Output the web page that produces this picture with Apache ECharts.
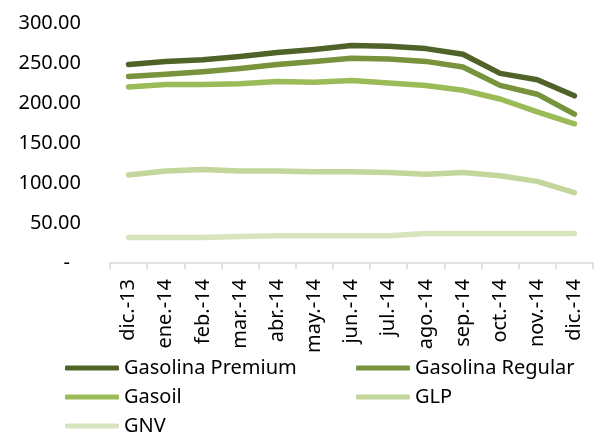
<!DOCTYPE html>
<html>
<head>
<meta charset="utf-8">
<script src="https://cdn.jsdelivr.net/npm/echarts@6/dist/echarts.min.js"></script>
<style>html,body{margin:0;padding:0;background:#fff;}#c{width:600px;height:432px;}</style>
</head>
<body>
<div id="c"></div>
<script>
const categories = ['dic.-13','ene.-14','feb.-14','mar.-14','abr.-14','may.-14','jun.-14','jul.-14','ago.-14','sep.-14','oct.-14','nov.-14','dic.-14'];
const gasolinaPremium = [248, 252, 254, 258, 263, 267, 272, 271, 268, 261, 237, 229, 209];
const gasolinaRegular = [233, 236, 239, 243, 248, 252, 256, 255, 252, 245, 222, 211, 186];
const gasoil = [220, 223, 223, 224, 227, 226, 228, 225, 222, 216, 205, 189, 174];
const glp = [110, 115, 117, 115, 115, 114, 114, 113, 111, 113, 109, 102, 88];
const gnv = [32, 32, 32, 33, 34, 34, 34, 34, 37, 37, 37, 37, 37];
const yTicks = {min: 0, max: 300, interval: 50};

const font = '"Noto Sans", "Liberation Sans", sans-serif';
const names = ['Gasolina Premium','Gasolina Regular','Gasoil','GLP','GNV'];
const colors = ['#4f6228','#77933c','#9bbb59','#c3d69b','#d7e4bd'];
const datas = [gasolinaPremium, gasolinaRegular, gasoil, glp, gnv];

const chart = echarts.init(document.getElementById('c'), null, {renderer: 'canvas'});
const legendCommon = {
  orient: 'vertical', top: 358, height: 140, icon: 'roundRect', itemWidth: 54, itemHeight: 5, itemGap: 9,
  padding: 0,
  textStyle: {fontFamily: font, fontSize: 20, color: '#000', lineHeight: 20},
  selectedMode: false
};
chart.setOption({
  animation: false,
  backgroundColor: '#fff',
  grid: {left: 110, right: 7, top: 23, bottom: 169, containLabel: false},
  legend: [
    Object.assign({left: 65, data: ['Gasolina Premium','Gasoil','GNV']}, legendCommon),
    Object.assign({left: 356, data: ['Gasolina Regular','GLP']}, legendCommon)
  ],
  xAxis: {
    type: 'category', data: categories, boundaryGap: true,
    axisLine: {lineStyle: {color: '#d9d9d9', width: 1.5}},
    axisTick: {show: true, length: 6, lineStyle: {color: '#d9d9d9', width: 1.5}},
    axisLabel: {rotate: 90, margin: 16, fontFamily: font, fontSize: 20, color: '#000', interval: 0}
  },
  yAxis: {
    type: 'value', min: yTicks.min, max: yTicks.max, interval: yTicks.interval,
    splitLine: {show: false}, axisLine: {show: false}, axisTick: {show: false},
    axisLabel: {
      margin: 29, fontFamily: font, fontSize: 20, color: '#000',
      formatter: v => v === 0 ? '{d|-}' : v.toFixed(2),
      rich: {d: {fontFamily: font, fontSize: 20, color: '#000', padding: [0, 11, 0, 0]}}
    }
  },
  series: names.map((n, i) => ({
    name: n, type: 'line', data: datas[i], showSymbol: false, symbol: 'none',
    color: colors[i],
    lineStyle: {color: colors[i], width: 5.5, cap: 'round', join: 'round'}
  })).reverse()
});
</script>
</body>
</html>
